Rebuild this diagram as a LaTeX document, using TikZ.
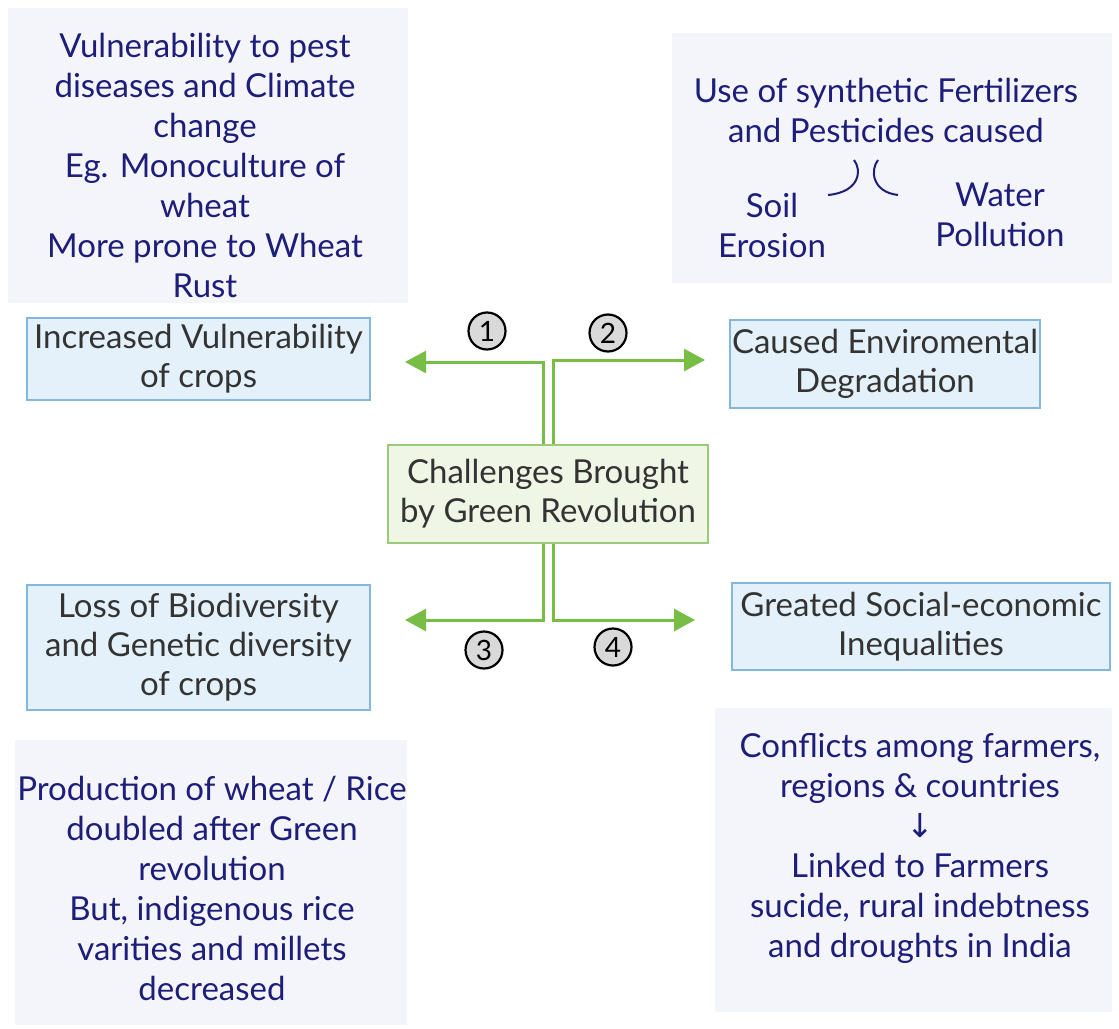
\documentclass[tikz,border=0pt]{standalone}
\usepackage{fontspec}
\setmainfont{Lato}
\newfontfamily\symfont{DejaVu Sans}
\usepackage{tikz}
\usetikzlibrary{positioning,arrows.meta,calc}
\usepackage{xcolor}

\definecolor{inkblue}{HTML}{1E1E7A}
\definecolor{notefill}{HTML}{F4F5FB}
\definecolor{itemfill}{HTML}{E4F1FA}
\definecolor{itemline}{HTML}{84B7DE}
\definecolor{ctrfill}{HTML}{EFF6E6}
\definecolor{ctrline}{HTML}{9ACB78}
\definecolor{linkgreen}{HTML}{78BE46}

\begin{document}
\begin{tikzpicture}[
    x=0.5pt, y=-0.5pt,
    link/.style={draw=linkgreen, line width=1.5pt, -{Triangle[length=10.5pt,width=11pt]}},
    itemnode/.style={draw=itemline, fill=itemfill, line width=0.8pt, align=center, text=black!80, font=\fontsize{16.5}{19.5}\selectfont, inner sep=0pt},
    ctrnode/.style={itemnode, draw=ctrline, fill=ctrfill},
    notenode/.style={fill=notefill, inner sep=0pt},
    notetext/.style={align=center, text=inkblue, font=\fontsize{16.5}{20}\selectfont, inner sep=0pt},
    numnode/.style={draw=black, fill=black!15, circle, line width=1.1pt, minimum size=18.5pt, inner sep=0pt, font=\fontsize{14}{14}\selectfont}
]
\useasboundingbox[fill=white] (0,0) rectangle (1119,1028);

% note boxes
\node[notenode, minimum width=200pt, minimum height=147.5pt] (notetl) at (208,155.5) {};
\node[notenode, minimum width=220pt, minimum height=125pt] (notetr) at (892,158) {};
\node[notenode, minimum width=196pt, minimum height=142.5pt] (notebl) at (211,882.5) {};
\node[notenode, minimum width=198.5pt, minimum height=152pt] (notebr) at (913.5,860) {};

\node[notetext] (txttl) at (205,165) {Vulnerability to pest\\diseases and Climate\\change\\Eg. Monoculture of\\wheat\\More prone to Wheat\\Rust};
\node[notetext] (txttr) at (886,110) {Use of synthetic Fertilizers\\and Pesticides caused};
\node[notetext] (soil) at (772,225) {Soil\\Erosion};
\node[notetext] (water) at (1000,215) {Water\\Pollution};
\coordinate (brk) at (866,178);
\draw[inkblue, line width=1pt] ($(brk)+(-12,-18)$) .. controls ($(brk)+(-4,-8)$) and ($(brk)+(-6,14)$) .. ($(brk)+(-38,17)$);
\draw[inkblue, line width=1pt] ($(brk)+(12,-18)$) .. controls ($(brk)+(4,-8)$) and ($(brk)+(6,14)$) .. ($(brk)+(32,17)$);
\node[notetext] (txtbl) at (212,888) {Production of wheat / Rice\\doubled after Green\\revolution\\But, indigenous rice\\varities and millets\\decreased};
\node[notetext] (txtbr) at (920,848) {Conflicts among farmers,\\regions \& countries\\{\symfont ↓}\\Linked to Farmers\\sucide, rural indebtness\\and droughts in India};

% main boxes
\node[ctrnode, minimum width=160pt, minimum height=49pt] (ctr) at (548,494) {Challenges Brought\\by Green Revolution};
\node[itemnode, minimum width=171.5pt, minimum height=41pt] (crops) at (198.5,359) {Increased Vulnerability\\of crops};
\node[itemnode, minimum width=155pt, minimum height=44pt] (envir) at (885,364) {Caused Enviromental\\Degradation};
\node[itemnode, minimum width=171.5pt, minimum height=62.5pt] (biodiv) at (198.5,647.5) {Loss of Biodiversity\\and Genetic diversity\\of crops};
\node[itemnode, minimum width=189pt, minimum height=43.5pt] (social) at (921,626.5) {Greated Social-economic\\Inequalities};

% connectors
\coordinate (end1) at (405,362);
\coordinate (end2) at (705,360);
\coordinate (end3) at (405,620);
\coordinate (end4) at (695,620);
\draw[link] ([xshift=-2.5pt]ctr.north) |- (end1);
\draw[link] ([xshift=2.5pt]ctr.north) |- (end2);
\draw[link] ([xshift=-2.5pt]ctr.south) |- (end3);
\draw[link] ([xshift=2.5pt]ctr.south) |- (end4);

\node[numnode] (num1) at (487,331) {1};
\node[numnode] (num2) at (608,333) {2};
\node[numnode] (num3) at (484,650) {3};
\node[numnode] (num4) at (613,647) {4};
\end{tikzpicture}
\end{document}
